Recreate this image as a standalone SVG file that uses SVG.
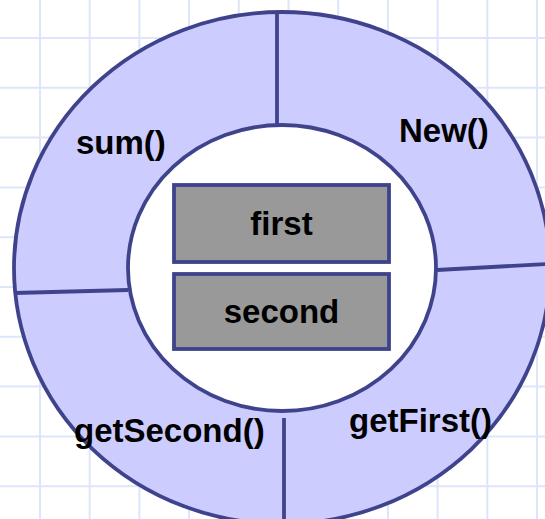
<svg xmlns="http://www.w3.org/2000/svg" width="545" height="519" viewBox="0 0 545 519">
<style>
.grid line{stroke:#dde5fa;stroke-width:2}
.ln{stroke:#3f438c;stroke-width:3.8;fill:none}
.box{fill:#999999;stroke:#3f438c;stroke-width:3.8}
text{font-family:"Liberation Sans",Arial,sans-serif;font-weight:bold;font-size:33px;fill:#000}
.c{text-anchor:middle}
</style>
<rect width="545" height="519" fill="#ffffff"/>
<g class="grid">
<line x1="40" y1="0" x2="40" y2="519"/><line x1="89.7" y1="0" x2="89.7" y2="519"/><line x1="139.4" y1="0" x2="139.4" y2="519"/><line x1="189.1" y1="0" x2="189.1" y2="519"/><line x1="238.8" y1="0" x2="238.8" y2="519"/><line x1="288.5" y1="0" x2="288.5" y2="519"/><line x1="338.2" y1="0" x2="338.2" y2="519"/><line x1="387.9" y1="0" x2="387.9" y2="519"/><line x1="437.6" y1="0" x2="437.6" y2="519"/><line x1="487.3" y1="0" x2="487.3" y2="519"/><line x1="537" y1="0" x2="537" y2="519"/>
<line x1="0" y1="38" x2="545" y2="38"/><line x1="0" y1="87.8" x2="545" y2="87.8"/><line x1="0" y1="137.6" x2="545" y2="137.6"/><line x1="0" y1="187.4" x2="545" y2="187.4"/><line x1="0" y1="237.2" x2="545" y2="237.2"/><line x1="0" y1="287" x2="545" y2="287"/><line x1="0" y1="336.8" x2="545" y2="336.8"/><line x1="0" y1="386.6" x2="545" y2="386.6"/><line x1="0" y1="436.4" x2="545" y2="436.4"/><line x1="0" y1="486.2" x2="545" y2="486.2"/>
</g>
<g id="ring">
<ellipse cx="282" cy="268" rx="268" ry="256" class="ln" style="fill:#ccccff"/>
<ellipse cx="282" cy="268" rx="154" ry="143" class="ln" style="fill:#ffffff"/>
</g>
<g id="connectors">
<line class="ln" x1="277" y1="12" x2="277" y2="125"/>
<line class="ln" x1="14" y1="293" x2="128" y2="290"/>
<line class="ln" x1="437" y1="270" x2="546" y2="264"/>
<line class="ln" x1="284" y1="418" x2="284" y2="520"/>
</g>
<g id="sum"><text x="76" y="154">sum()</text></g>
<g id="new"><text x="399" y="142">New()</text></g>
<g id="getFirst"><text x="349" y="432">getFirst()</text></g>
<g id="getSecond"><text x="74" y="442">getSecond()</text></g>
<g id="first"><rect class="box" x="174" y="185" width="215" height="77"/><text class="c" x="281.5" y="235">first</text></g>
<g id="second"><rect class="box" x="174" y="274" width="215" height="75"/><text class="c" x="281.5" y="323">second</text></g>
</svg>
